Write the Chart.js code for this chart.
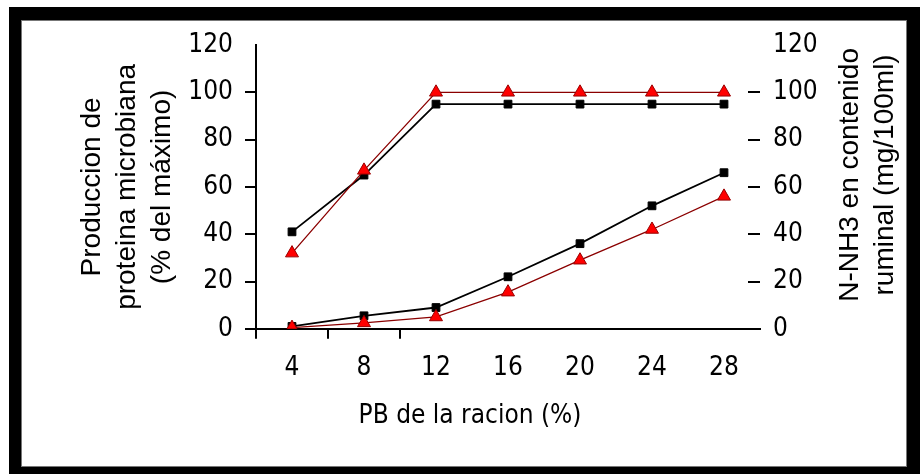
<!DOCTYPE html>
<html>
<head>
<meta charset="utf-8">
<script src="https://cdn.jsdelivr.net/npm/chart.js@4"></script>
<style>
  body { margin: 0; background: #fff; }
  #frame { position: absolute; left: 9px; top: 7px; right: 0; bottom: 0; background: #000; }
  #inner { position: absolute; left: 12px; top: 13px; width: 884px; height: 445px; background: #fff; border: 1px solid #777; }
  #myChart { position: absolute; left: 0; top: 0; }
</style>
</head>
<body>
<div id="frame"><div id="inner"></div></div>
<canvas id="myChart" width="920" height="474"></canvas>
<script>
// PB de la racion (%)
const categories = ['4', '8', '12', '16', '20', '24', '28'];
// produccion de proteina microbiana (% del maximo) - eje izquierdo
const protBlack = [41, 65, 95, 95, 95, 95, 95];
const protRed = [32, 67, 100, 100, 100, 100, 100];
// N-NH3 ruminal (mg/100ml) - eje derecho
const nh3Black = [1, 5.5, 9, 22, 36, 52, 66];
const nh3Red = [0.5, 2.5, 5, 15.5, 29, 42, 56];
const yTicks = [0, 20, 40, 60, 80, 100, 120];

const narrow = '"Liberation Sans Narrow", "DejaVu Sans Condensed", sans-serif';
const sans = '"Liberation Sans", Arial, sans-serif';

// no tick mark at 120
const tickColor = ctx => (ctx.tick && ctx.tick.value === 120) ? 'rgba(0,0,0,0)' : '#000';

// right axis title reads bottom-to-top, chart.js would turn it the other way
const rightTitle = {
  id: 'rightTitle',
  afterDraw(chart) {
    const s = chart.scales.y1;
    const c = chart.ctx;
    const lines = ['N-NH3 en contenido', 'ruminal (mg/100ml)'];
    c.save();
    c.font = '28px ' + sans;
    c.fillStyle = '#000';
    c.textAlign = 'center';
    c.textBaseline = 'middle';
    lines.forEach((t, i) => {
      c.save();
      c.translate(s.left + 90 + i * 35, (s.top + s.bottom) / 2 - 12);
      c.rotate(-Math.PI / 2);
      c.fillText(t, 0, 0);
      c.restore();
    });
    c.restore();
  }
};

function blackSet(data, axis) {
  return {
    data: data, yAxisID: axis, order: 1,
    borderColor: '#000', borderWidth: 1.8,
    pointStyle: 'rect', pointRadius: 5.5,
    pointBackgroundColor: '#000', pointBorderColor: '#000', pointBorderWidth: 1
  };
}
function redSet(data, axis) {
  return {
    data: data, yAxisID: axis, order: 0,
    borderColor: '#8b0000', borderWidth: 1.3,
    pointStyle: 'triangle', pointRadius: 7.5,
    pointBackgroundColor: '#ff0000', pointBorderColor: '#990000', pointBorderWidth: 1
  };
}

var ctx = document.getElementById('myChart').getContext('2d');

var myChart = new Chart(ctx, {
  type: 'line',
  data: {
    labels: categories,
    datasets: [
      blackSet(protBlack, 'y'),
      redSet(protRed, 'y'),
      blackSet(nh3Black, 'y1'),
      redSet(nh3Red, 'y1')
    ]
  },
  options: {
    responsive: false,
    animation: false,
    elements: { line: { tension: 0 } },
    layout: { padding: { left: 20, right: 0, top: 45, bottom: 30 } },
    plugins: {
      legend: { display: false },
      tooltip: { enabled: false },
      title: {
        display: true,
        position: 'bottom',
        text: 'PB de la racion (%)',
        color: '#000',
        font: { family: narrow, size: 26, weight: 'normal' },
        padding: { top: 12, bottom: 12 }
      }
    },
    scales: {
      x: {
        offset: true,
        grid: {
          offset: true,
          drawOnChartArea: false,
          tickLength: 10,
          lineWidth: 2,
          color: ctx => (ctx.index <= 2) ? '#000' : 'rgba(0,0,0,0)'
        },
        border: { display: true, color: '#000', width: 2 },
        ticks: { color: '#000', padding: 14, font: { family: narrow, size: 26 } },
        afterFit: s => { s.height = 60; }
      },
      y: {
        position: 'left',
        min: 0, max: 120,
        afterBuildTicks: s => { s.ticks = yTicks.map(v => ({ value: v })); },
        grid: { drawOnChartArea: false, tickLength: 11, lineWidth: 2, color: tickColor },
        border: { display: true, color: '#000', width: 2 },
        ticks: { color: '#000', padding: 12, font: { family: narrow, size: 26 } },
        title: {
          display: true,
          text: ['Produccion de', 'proteina microbiana', '(% del máximo)'],
          color: '#000',
          font: { family: sans, size: 28, lineHeight: 1.25 },
          padding: { top: 55, bottom: 0 }
        },
        afterFit: s => { s.width = 236; }
      },
      y1: {
        position: 'right',
        min: 0, max: 120,
        afterBuildTicks: s => { s.ticks = yTicks.map(v => ({ value: v })); },
        grid: { drawOnChartArea: false, tickLength: -12, lineWidth: 2, color: tickColor },
        border: { display: false },
        ticks: { color: '#000', padding: 25, font: { family: narrow, size: 26 } },
        afterFit: s => { s.width = 160; }
      }
    }
  },
  plugins: [rightTitle]
});
</script>
</body>
</html>
